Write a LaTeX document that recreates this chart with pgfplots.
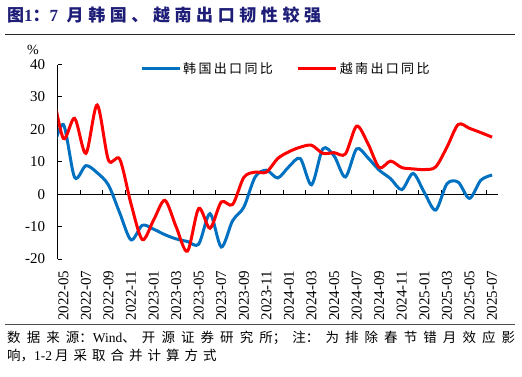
\documentclass[border=0pt]{standalone}
\usepackage{fontspec}
\setmainfont{Liberation Serif}
\newfontfamily\cjk{Noto Sans CJK SC}
\newfontfamily\cjkls[LetterSpace=18]{Noto Sans CJK SC}
\newfontfamily\cjktitle[LetterSpace=27]{Noto Sans CJK SC}
\usepackage{pgfplots}
\usepackage{pgfplotstable}
\pgfplotsset{compat=1.18}
\definecolor{kblue}{HTML}{0070C0}
\definecolor{vred}{HTML}{FF0000}
\definecolor{titlec}{HTML}{1E1E78}

\pgfplotstableread{
x y
-1 12.6
0 21.5
1 5.2
2 8.8
3 6.6
4 2.8
5 -5.8
6 -14.1
7 -9.6
8 -10.8
9 -12.5
10 -13.8
11 -14.6
12 -15.4
13 -6.0
14 -16.3
15 -8.2
16 -4.0
17 5.3
18 7.4
19 5.0
20 8.5
21 11.0
22 2.9
23 14.0
24 11.8
25 5.3
26 14.0
27 11.2
28 7.4
29 4.8
30 1.4
31 6.4
32 0.5
33 -4.9
34 3.2
35 3.7
36 -1.3
37 4.3
38 5.9
}\korea

\pgfplotstableread{
x y
-1 33
0 17.2
1 23.4
2 12.6
3 27.5
4 10.5
5 10.8
6 -3
7 -14
8 -8
9 -1.9
10 -10.1
11 -17.6
12 -4.4
13 -10.5
14 -2.4
15 -3.2
16 5.2
17 6.8
18 6.8
19 11
20 13.1
21 14.5
22 15.1
23 12.6
24 12.8
25 12.4
26 21
27 15.6
28 8.2
29 10.2
30 8.2
31 7.8
32 7.6
33 8.4
34 14.5
35 21.5
36 20.3
37 19
38 17.6
}\vietnam

\begin{document}
\begin{tikzpicture}[x=1pt,y=1pt]
\useasboundingbox (0,0) rectangle (522,376);
\node[anchor=west, text=titlec, inner sep=0pt, font=\cjktitle\bfseries\fontsize{17}{20}\selectfont] at (7,361) {图{\rmfamily\bfseries 1}：{\rmfamily\bfseries 7} 月韩国、越南出口韧性较强};
\draw[line width=1pt, black!85] (5,341.7) -- (515,341.7);
\begin{axis}[
  at={(57.7pt,117pt)}, anchor=south west,
  width=440pt, height=194.5pt, scale only axis,
  xmin=-0.5, xmax=38.5, ymin=-20, ymax=40,
  axis x line=middle, axis y line=left,
  axis line style={-, line width=0.9pt, black},
  ytick={-20,-10,...,40},
  yticklabels={-20,-10,0,10,20,30,40},
  ytick align=inside,
  xtick={-0.5,1.5,...,37.5},
  xticklabels={},
  xtick align=inside,
  major tick length=4pt,
  tick style={line width=0.9pt, black},
  extra x ticks={0,2,...,38},
  extra x tick labels={2022-05,2022-07,2022-09,2022-11,2023-01,2023-03,2023-05,2023-07,2023-09,2023-11,2024-01,2024-03,2024-05,2024-07,2024-09,2024-11,2025-01,2025-03,2025-05,2025-07},
  extra x tick style={major tick length=0pt},
  xticklabel shift=73pt,
  xticklabel style={rotate=90, anchor=east, font=\fontsize{15}{15}\selectfont},
  yticklabel style={font=\fontsize{15}{15}\selectfont, xshift=-9pt},
  legend style={at={(rel axis cs:0.187,0.977)}, anchor=west, draw=none, fill=none, inner sep=0pt,
    legend columns=2, font=\cjkls\fontsize{13}{15}\selectfont,
    /tikz/every even column/.append style={column sep=22pt}},
  legend image code/.code={\draw[#1] (0pt,0pt) -- (38pt,0pt);},
]
\addplot[color=kblue, line width=3pt, smooth] table[x=x,y=y] {\korea};
\addlegendentry{韩国出口同比}
\addplot[color=vred, line width=3pt, smooth] table[x=x,y=y] {\vietnam};
\addlegendentry{越南出口同比}
\end{axis}
\node[font=\fontsize{14}{14}\selectfont, inner sep=0pt] at (33,326) {\%};
\draw[line width=0.8pt, black!70] (5,52) -- (515,52);
\node[anchor=north west, inner sep=0pt, text width=508pt, align=justify,
  font=\cjk\fontsize{13.5}{18}\selectfont] at (7,45)
  {\XeTeXlinebreaklocale "zh"\XeTeXlinebreakskip=5pt plus 8pt
  数据来源：{\rmfamily Wind}、开源证券研究所；注：为排除春节错月效应影\linebreak 响，{\rmfamily 1-2} 月采取合并计算方式};
\end{tikzpicture}
\end{document}
